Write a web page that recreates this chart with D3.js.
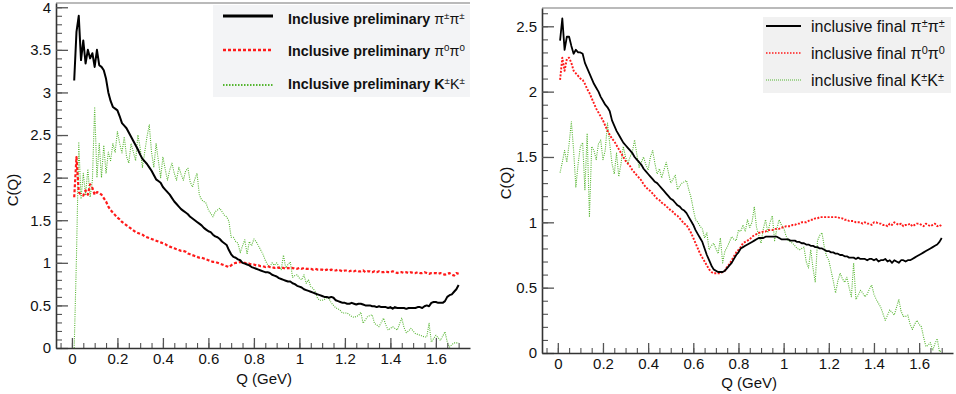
<!DOCTYPE html>
<html>
<head>
<meta charset="utf-8">
<script src="https://cdn.jsdelivr.net/npm/d3@7"></script>
<style>
  body { margin: 0; background: #fff; }
  svg text { font-family: "Liberation Sans", Arial, sans-serif; fill: #111; }
</style>
</head>
<body>
<svg id="chart" width="956" height="394"></svg>
<script>
// Q grid: 0.01 .. 1.70 GeV, step 0.01
const qValues = d3.range(1, 171).map(i => i / 100);

// left panel - preliminary
const prelimPiPi = [
  3.14,3.71,3.9,3.38,3.61,3.34,3.5,3.4,3.46,3.3,
  3.5,3.32,3.3,3.26,3.16,3.0,2.9,2.83,2.81,2.79,
  2.72,2.64,2.61,2.58,2.53,2.48,2.43,2.38,2.33,2.27,
  2.22,2.19,2.16,2.12,2.08,2.03,1.98,1.96,1.94,1.89,
  1.86,1.83,1.80,1.76,1.72,1.69,1.66,1.63,1.61,1.59,
  1.57,1.54,1.52,1.50,1.48,1.46,1.44,1.41,1.39,1.37,
  1.36,1.33,1.31,1.30,1.28,1.25,1.23,1.21,1.15,1.10,
  1.07,1.06,1.04,1.03,1.00,0.99,0.98,0.97,0.95,0.94,
  0.93,0.92,0.91,0.90,0.89,0.89,0.88,0.86,0.85,0.84,
  0.82,0.81,0.80,0.79,0.78,0.78,0.76,0.75,0.73,0.72,
  0.71,0.69,0.68,0.67,0.66,0.65,0.64,0.63,0.62,0.61,
  0.60,0.60,0.59,0.60,0.59,0.56,0.55,0.54,0.53,0.53,
  0.52,0.52,0.53,0.52,0.51,0.52,0.52,0.51,0.50,0.50,
  0.50,0.49,0.49,0.48,0.49,0.48,0.48,0.48,0.47,0.48,
  0.46,0.48,0.47,0.47,0.47,0.47,0.46,0.47,0.47,0.47,
  0.47,0.48,0.48,0.47,0.49,0.50,0.49,0.53,0.54,0.54,
  0.53,0.53,0.53,0.55,0.60,0.62,0.63,0.66,0.69,0.74
];
const prelimPi0Pi0 = [
  1.77,2.24,1.83,1.80,1.79,1.85,1.80,1.92,1.88,1.80,
  1.83,1.82,1.80,1.76,1.72,1.66,1.62,1.59,1.56,1.53,
  1.51,1.48,1.46,1.44,1.42,1.40,1.38,1.36,1.35,1.34,
  1.33,1.31,1.30,1.29,1.28,1.27,1.26,1.25,1.24,1.23,
  1.22,1.20,1.19,1.18,1.17,1.16,1.15,1.14,1.14,1.13,
  1.11,1.10,1.09,1.08,1.07,1.06,1.06,1.05,1.04,1.03,
  1.02,1.01,1.01,1.00,0.99,0.98,0.97,0.96,0.95,0.97,
  0.99,1.00,1.00,1.01,1.00,1.00,0.99,0.99,0.98,0.98,
  0.97,0.97,0.96,0.96,0.95,0.96,0.95,0.95,0.94,0.95,
  0.94,0.94,0.94,0.93,0.94,0.93,0.94,0.93,0.93,0.94,
  0.93,0.94,0.93,0.93,0.93,0.92,0.93,0.92,0.92,0.92,
  0.91,0.92,0.91,0.92,0.91,0.91,0.92,0.91,0.90,0.91,
  0.91,0.90,0.91,0.90,0.91,0.90,0.90,0.91,0.89,0.90,
  0.90,0.89,0.90,0.89,0.90,0.89,0.89,0.90,0.89,0.89,
  0.90,0.89,0.88,0.89,0.89,0.88,0.89,0.88,0.89,0.88,
  0.88,0.89,0.88,0.88,0.89,0.88,0.87,0.88,0.88,0.88,
  0.87,0.88,0.87,0.86,0.87,0.88,0.86,0.85,0.88,0.87
];
const prelimKK = [
  0,1.07,2.42,1.75,2.05,1.8,2.1,1.77,1.97,2.83,
  2.0,2.4,2.0,2.38,2.05,2.3,2.2,2.4,2.3,2.54,
  2.4,2.29,2.48,2.25,2.17,2.4,2.3,2.2,2.5,2.35,
  2.12,2.3,2.48,2.62,2.3,2.12,2.4,2.2,2.0,2.24,
  2.1,1.97,2.09,2.17,2.05,1.97,2.12,2.04,1.97,2.08,
  2.11,1.95,1.89,1.98,2.05,1.8,1.74,1.72,1.70,1.62,
  1.58,1.54,1.6,1.62,1.64,1.6,1.56,1.54,1.49,1.3,
  1.3,1.25,1.23,1.12,1.2,1.27,1.1,1.25,1.2,1.28,
  1.25,1.2,1.15,1.1,1.03,0.98,0.95,1.0,0.97,1.0,
  0.96,0.92,1.09,0.94,0.98,1.01,0.83,0.85,0.86,0.82,
  0.80,0.86,0.76,0.80,0.72,0.70,0.66,0.58,0.56,0.56,
  0.57,0.59,0.58,0.53,0.50,0.47,0.46,0.44,0.41,0.41,
  0.41,0.39,0.37,0.36,0.37,0.38,0.42,0.29,0.33,0.37,
  0.38,0.39,0.29,0.27,0.25,0.3,0.35,0.27,0.21,0.23,
  0.25,0.23,0.21,0.28,0.35,0.24,0.18,0.2,0.23,0.2,
  0.17,0.16,0.15,0.14,0.13,0.13,0.29,0.07,0.11,0.15,
  0.12,0.09,0.14,0.19,0.07,0.01,0.04,0.06,0.06,0.06
];

// right panel - final
const finalPiPi = [
  2.39,2.56,2.32,2.42,2.42,2.35,2.29,2.32,2.30,2.30,
  2.29,2.22,2.18,2.14,2.10,2.06,2.03,2.00,1.96,1.93,
  1.90,1.88,1.85,1.78,1.74,1.70,1.67,1.64,1.61,1.59,
  1.57,1.55,1.53,1.50,1.48,1.46,1.44,1.41,1.39,1.37,
  1.35,1.33,1.31,1.30,1.28,1.26,1.24,1.22,1.20,1.18,
  1.17,1.15,1.13,1.12,1.10,1.09,1.07,1.04,1.01,0.98,
  0.94,0.91,0.88,0.85,0.80,0.75,0.71,0.67,0.64,0.63,
  0.62,0.62,0.62,0.63,0.65,0.67,0.69,0.72,0.75,0.77,
  0.80,0.81,0.82,0.83,0.84,0.85,0.86,0.87,0.88,0.88,
  0.88,0.89,0.89,0.89,0.89,0.89,0.89,0.88,0.87,0.87,
  0.87,0.87,0.86,0.86,0.86,0.85,0.85,0.84,0.84,0.83,
  0.83,0.82,0.82,0.81,0.81,0.80,0.80,0.79,0.78,0.78,
  0.77,0.77,0.76,0.76,0.75,0.75,0.74,0.74,0.73,0.73,
  0.73,0.72,0.73,0.72,0.72,0.72,0.71,0.72,0.72,0.71,
  0.72,0.70,0.71,0.71,0.72,0.70,0.71,0.69,0.71,0.70,
  0.69,0.71,0.71,0.70,0.71,0.71,0.72,0.73,0.74,0.75,
  0.76,0.77,0.78,0.79,0.80,0.81,0.82,0.83,0.85,0.88
];
const finalPi0Pi0 = [
  2.09,2.26,2.16,2.25,2.26,2.22,2.16,2.14,2.12,2.10,
  2.09,2.06,2.02,1.99,1.95,1.91,1.87,1.84,1.81,1.78,
  1.74,1.70,1.67,1.64,1.62,1.59,1.56,1.53,1.50,1.47,
  1.45,1.43,1.40,1.38,1.36,1.34,1.32,1.29,1.27,1.25,
  1.24,1.22,1.20,1.18,1.17,1.15,1.14,1.12,1.11,1.09,
  1.08,1.06,1.05,1.03,1.01,0.99,0.98,0.95,0.92,0.88,
  0.84,0.80,0.76,0.73,0.70,0.67,0.64,0.62,0.61,0.61,
  0.61,0.61,0.62,0.63,0.66,0.68,0.71,0.74,0.77,0.79,
  0.81,0.84,0.85,0.86,0.87,0.89,0.90,0.91,0.92,0.92,
  0.93,0.93,0.94,0.94,0.94,0.95,0.95,0.95,0.96,0.96,
  0.97,0.97,0.97,0.98,0.98,0.99,0.99,1.00,1.00,1.00,
  1.01,1.02,1.02,1.03,1.03,1.04,1.04,1.04,1.04,1.04,
  1.04,1.04,1.04,1.04,1.03,1.03,1.02,1.02,1.01,1.01,
  1.01,1.00,1.00,1.00,0.99,1.00,0.99,0.99,0.98,1.00,
  1.00,0.99,0.99,0.98,0.98,0.97,0.99,0.98,1.00,0.99,
  0.98,0.99,0.97,0.98,0.98,0.99,0.97,0.98,0.99,0.99,
  0.98,0.97,0.99,0.98,0.97,0.98,0.99,0.97,0.98,0.97
];
const finalKK = [
  1.38,1.46,1.55,1.46,1.6,1.77,1.55,1.27,1.45,1.58,
  1.61,1.25,1.68,1.04,1.58,1.55,1.48,1.6,1.63,1.48,
  1.55,1.76,1.6,1.45,1.37,1.53,1.35,1.45,1.58,1.5,
  1.45,1.5,1.54,1.63,1.52,1.42,1.46,1.5,1.44,1.40,
  1.5,1.55,1.45,1.37,1.41,1.34,1.4,1.46,1.38,1.3,
  1.33,1.36,1.25,1.28,1.30,1.31,1.32,1.25,1.19,1.1,
  1.02,1.0,0.97,0.95,0.88,0.92,0.79,0.82,0.84,0.8,
  0.76,0.88,0.69,0.78,0.81,0.85,0.89,0.87,0.86,0.94,
  0.93,0.98,0.93,1.02,0.96,1.0,1.12,0.96,0.9,0.84,
  0.95,1.02,0.92,1.0,1.05,0.86,0.95,1.02,0.98,0.96,
  0.9,0.86,0.85,0.84,0.82,0.8,0.79,0.8,0.81,0.7,
  0.65,0.79,0.65,0.54,0.86,0.9,0.92,0.81,0.74,0.71,
  0.63,0.55,0.46,0.55,0.61,0.57,0.54,0.58,0.5,0.43,
  0.69,0.41,0.44,0.48,0.46,0.43,0.45,0.49,0.52,0.45,
  0.41,0.38,0.35,0.3,0.25,0.29,0.33,0.31,0.29,0.35,
  0.41,0.32,0.28,0.28,0.29,0.22,0.18,0.22,0.25,0.22,
  0.2,0.12,0.05,0.06,0.08,0.02,0.07,0.11,0.01,0.02
];

const xMajor = [0, 0.2, 0.4, 0.6, 0.8, 1, 1.2, 1.4, 1.6];
const yMajorLeft = [0, 0.5, 1, 1.5, 2, 2.5, 3, 3.5, 4];
const yMajorRight = [0, 0.5, 1, 1.5, 2, 2.5];

const styles = {
  pipi:  { stroke: "#000", width: 2, dash: null },
  pi0:   { stroke: "#ff1a1a", width: 2, dash: "3,2" },
  kk:    { stroke: "#55b530", width: 1.1, dash: "1,1.2" }
};

const svg = d3.select("#chart");
svg.append("rect").attr("width", 956).attr("height", 394).attr("fill", "#fff");

function drawPanel(cfg) {
  const x = d3.scaleLinear().domain([-0.07, 1.75]).range(cfg.xRange);
  const y = d3.scaleLinear().domain([0, cfg.yMax]).range(cfg.yRange);
  const g = svg.append("g");

  // top frame line
  g.append("line")
    .attr("x1", cfg.xRange[0]).attr("x2", cfg.xRange[1])
    .attr("y1", cfg.yRange[1]).attr("y2", cfg.yRange[1])
    .attr("stroke", "#777").attr("stroke-width", 1.2);

  const line = d3.line().x(d => x(d[0])).y(d => y(d[1]));
  cfg.series.forEach(s => {
    const st = styles[s.key];
    const pts = qValues.map((q, i) => [q, s.values[i]]).filter(d => d[1] != null);
    g.append("path")
      .attr("d", line(pts))
      .attr("fill", "none")
      .attr("stroke", st.stroke)
      .attr("stroke-width", s.width || st.width)
      .attr("stroke-dasharray", s.dash || st.dash)
      .attr("stroke-linejoin", "round");
  });

  // minor ticks
  g.append("g")
    .attr("transform", "translate(" + cfg.xRange[0] + ",0)")
    .call(d3.axisLeft(y).tickValues(d3.range(0, cfg.yMax, 0.1)).tickSize(-6).tickFormat(""))
    .call(a => a.select(".domain").remove())
    .selectAll("line").attr("stroke", "#555").attr("stroke-width", 1.1);
  g.append("g")
    .attr("transform", "translate(0," + cfg.yRange[0] + ")")
    .call(d3.axisBottom(x).tickValues(d3.range(-0.05, 1.74, 0.05)).tickSize(-5).tickFormat(""))
    .call(a => a.select(".domain").remove())
    .selectAll("line").attr("stroke", "#555").attr("stroke-width", 1.1);

  // major ticks + labels
  const yAx = g.append("g")
    .attr("transform", "translate(" + cfg.xRange[0] + ",0)")
    .call(d3.axisLeft(y).tickValues(cfg.yMajor).tickSize(-12).tickSizeOuter(0).tickPadding(5).tickFormat(d3.format("")));
  yAx.select(".domain").attr("stroke", "#333").attr("stroke-width", 1.6);
  yAx.selectAll("line").attr("stroke", "#555").attr("stroke-width", 1.3);
  yAx.selectAll("text").attr("font-size", 15).attr("fill", "#111");

  const xAx = g.append("g")
    .attr("transform", "translate(0," + cfg.yRange[0] + ")")
    .call(d3.axisBottom(x).tickValues(xMajor).tickSize(-10).tickSizeOuter(0).tickPadding(5).tickFormat(d3.format("")));
  xAx.select(".domain").attr("stroke", "#333").attr("stroke-width", 1.6);
  xAx.selectAll("line").attr("stroke", "#555").attr("stroke-width", 1.3);
  xAx.selectAll("text").attr("font-size", 15).attr("fill", "#111");

  // axis titles
  svg.append("text")
    .attr("transform", "translate(" + cfg.yTitle[0] + "," + cfg.yTitle[1] + ") rotate(-90)")
    .attr("text-anchor", "middle").attr("font-size", 15).text("C(Q)");
  svg.append("text")
    .attr("x", cfg.xTitle[0]).attr("y", cfg.xTitle[1])
    .attr("text-anchor", "end").attr("font-size", 15).text("Q (GeV)");

  // legend
  const L = cfg.legend;
  svg.append("rect")
    .attr("x", L.box[0]).attr("y", L.box[1]).attr("width", L.box[2]).attr("height", L.box[3])
    .attr("fill", L.fill);
  L.rows.forEach((r, i) => {
    const st = styles[r.key];
    svg.append("line")
      .attr("x1", L.lineX[0]).attr("x2", L.lineX[1])
      .attr("y1", L.lineY[i]).attr("y2", L.lineY[i])
      .attr("stroke", st.stroke)
      .attr("stroke-width", r.width || st.width + 0.6)
      .attr("stroke-dasharray", r.dash || st.dash);
    const t = svg.append("text")
      .attr("x", L.textX).attr("y", L.textY[i])
      .attr("font-size", L.fontSize)
      .attr("font-weight", L.bold ? "bold" : "normal");
    r.parts.forEach(p => {
      const ts = t.append("tspan").text(p[0]);
      if (p[1] === "sup") ts.attr("font-size", L.fontSize * 0.68).attr("dy", -5).attr("font-weight", "normal");
      if (p[1] === "base") ts.attr("dy", 5).attr("font-weight", "normal");
      if (p[1] === "sym") ts.attr("font-weight", "normal");
    });
  });
}

drawPanel({
  xRange: [56, 470], yRange: [348, 3], yMax: 4.05, yMajor: yMajorLeft,
  yTitle: [18, 190], xTitle: [292, 384],
  series: [
    { key: "kk", values: prelimKK },
    { key: "pi0", values: prelimPi0Pi0, width: 2.2 },
    { key: "pipi", values: prelimPiPi }
  ],
  legend: {
    box: [213, 5, 257, 92], fill: "#f3f4f6",
    lineX: [223, 273], lineY: [16, 50, 85],
    textX: 288, textY: [24, 56, 89], fontSize: 14.3, bold: true,
    rows: [
      { key: "pipi", width: 3, parts: [["Inclusive preliminary "], ["π", "sym"], ["±", "sup"], ["π", "base"], ["±", "sup"]] },
      { key: "pi0", width: 2.6, parts: [["Inclusive preliminary "], ["π", "sym"], ["0", "sup"], ["π", "base"], ["0", "sup"]] },
      { key: "kk", width: 1.8, dash: "1.5,1.5", parts: [["Inclusive preliminary K"], ["±", "sup"], ["K", "base"], ["±", "sup"]] }
    ]
  }
});

drawPanel({
  xRange: [542, 953], yRange: [353, 8], yMax: 2.64, yMajor: yMajorRight,
  yTitle: [511, 183], xTitle: [777, 388],
  series: [
    { key: "kk", values: finalKK },
    { key: "pi0", values: finalPi0Pi0, width: 1.9, dash: "2,1.5" },
    { key: "pipi", values: finalPiPi, width: 1.8 }
  ],
  legend: {
    box: [763, 17, 188, 76], fill: "#f1f1f1",
    lineX: [766, 801], lineY: [26, 53, 80],
    textX: 811, textY: [32, 59, 86], fontSize: 16, bold: false,
    rows: [
      { key: "pipi", width: 1.8, parts: [["inclusive final "], ["π", "sym"], ["±", "sup"], ["π", "base"], ["±", "sup"]] },
      { key: "pi0", width: 1.4, dash: "1.5,1.5", parts: [["inclusive final "], ["π", "sym"], ["0", "sup"], ["π", "base"], ["0", "sup"]] },
      { key: "kk", width: 1.2, dash: "1,1", parts: [["inclusive final K"], ["±", "sup"], ["K", "base"], ["±", "sup"]] }
    ]
  }
});
</script>
</body>
</html>
